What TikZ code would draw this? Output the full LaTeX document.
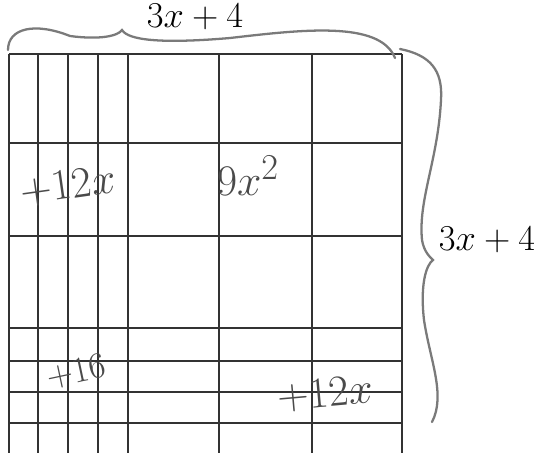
\documentclass[tikz,border=0pt]{standalone}
\usepackage{xcolor}
\usepackage{tikz}
\usetikzlibrary{positioning, calc}
\definecolor{penline}{HTML}{333333}
\definecolor{bracegray}{HTML}{7A7A7A}
\definecolor{inkgray}{HTML}{4A4A4A}

\tikzset{
  gridline/.style={draw=penline, line width=0.9pt},
  handbrace/.style={draw=bracegray, line width=1.3pt, line cap=round},
  handtext/.style={text=black, font=\fontsize{20}{22}\selectfont, inner sep=1pt},
  celltext/.style={text=inkgray, font=\fontsize{24}{26}\selectfont, inner sep=1pt}
}

\begin{document}
\begin{tikzpicture}[x=0.02cm, y=-0.02cm]
    \useasboundingbox (0,0) rectangle (534,453);

    % grid of the square
    \foreach \gx in {9,38,68,98,128,219,312,402}
      \draw[gridline] (\gx,54) -- (\gx,453);
    \foreach \gy in {54,143,236,328,361,392,423}
      \draw[gridline] (9,\gy) -- (402,\gy);

    % braces
    \draw[handbrace] (8,50) .. controls (8,28) and (35,22) .. (70,36)
      .. controls (100,40) and (118,36) .. (122,30)
      .. controls (128,40) and (160,44) .. (230,38)
      .. controls (300,30) and (380,20) .. (395,58);
    \draw[handbrace] (400,49) .. controls (430,55) and (443,70) .. (441,100)
      .. controls (438,160) and (418,200) .. (422,240)
      .. controls (424,252) and (430,257) .. (433,260)
      .. controls (426,265) and (420,285) .. (424,320)
      .. controls (430,360) and (446,395) .. (432,422);

    % labels
    \node[handtext] (topside) at (195,17) {$3x+4$};
    \node[handtext] (rightside) at (487,240) {$3x+4$};
    \node[celltext, rotate=8] (leftterm) at (68,186) {$+12x$};
    \node[celltext, font=\fontsize{30}{32}\selectfont] (square) at (248,176) {$9x^2$};
    \node[celltext, font=\fontsize{21}{23}\selectfont, rotate=12] (constterm) at (76,372) {$+16$};
    \node[celltext, font=\fontsize{27}{29}\selectfont, rotate=5] (lowterm) at (325,394) {$+12x$};
  \end{tikzpicture}
\end{document}
